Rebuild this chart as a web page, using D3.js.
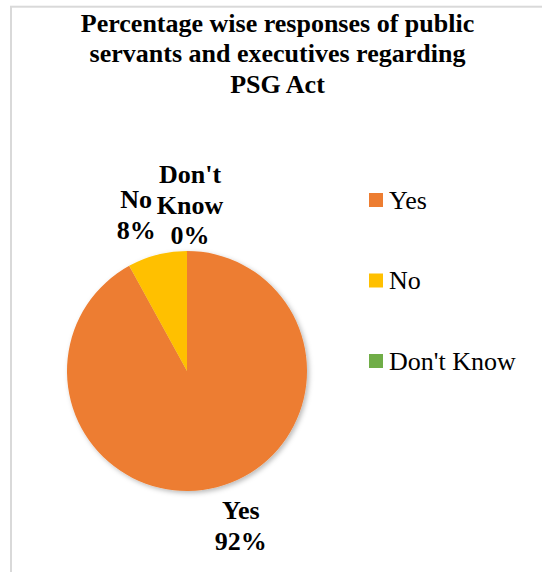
<!DOCTYPE html>
<html>
<head>
<meta charset="utf-8">
<script src="https://cdn.jsdelivr.net/npm/d3@7"></script>
<style>
  html, body { margin: 0; padding: 0; background: #fff; }
  svg { display: block; }
  text { font-family: "Liberation Serif", "Times New Roman", serif; fill: #000; }
</style>
</head>
<body>
<svg id="chart" width="542" height="572"></svg>
<script>
// Survey responses (percent)
const categories = ["Yes", "No", "Don't Know"];
const values = [92, 8, 0];
const colors = ["#ED7D31", "#FFC000", "#70AD47"];
const titleLines = [
  "Percentage wise responses of public",
  "servants and executives regarding",
  "PSG Act"
];

const svg = d3.select("#chart");
const W = 542, H = 572;

// chart frame
svg.append("rect")
  .attr("x", 11).attr("y", 6.7)
  .attr("width", 540).attr("height", 580)
  .attr("fill", "#fff")
  .attr("stroke", "#d9d9d9")
  .attr("stroke-width", 2);

// title
svg.append("text")
  .attr("text-anchor", "middle")
  .attr("font-size", 26)
  .attr("font-weight", "bold")
  .selectAll("tspan")
  .data(titleLines)
  .join("tspan")
  .attr("x", 277.5)
  .attr("y", (d, i) => 31.7 + i * 30.5)
  .text(d => d);

// soft shadow under the pie
const defs = svg.append("defs");
const f = defs.append("filter").attr("id", "pieShadow")
  .attr("x", "-20%").attr("y", "-20%").attr("width", "140%").attr("height", "140%");
f.append("feDropShadow")
  .attr("dx", 2).attr("dy", 2).attr("stdDeviation", 2.5)
  .attr("flood-color", "#000").attr("flood-opacity", 0.28);

const cx = 187, cy = 371, R = 120;
const color = d3.scaleOrdinal().domain(categories).range(colors);

const pie = d3.pie().sort(null).value(d => d.value);
const data = categories.map((c, i) => ({ category: c, value: values[i] }));
const arcs = pie(data);
const arc = d3.arc().innerRadius(0).outerRadius(R);

const g = svg.append("g").attr("transform", `translate(${cx},${cy})`);
g.append("g").attr("filter", "url(#pieShadow)")
  .selectAll("path")
  .data(arcs.filter(d => d.value > 0))
  .join("path")
  .attr("d", arc)
  .attr("fill", d => color(d.data.category));

// outside-end data labels: anchored on the slice's mid-angle, then nudged
const nudges = { "Yes": [15, 4], "No": [-12, -5], "Don't Know": [3, -10] };
const fs = 26, lh = 30.5;
arcs.forEach(d => {
  const a = (d.startAngle + d.endAngle) / 2;
  const rr = R * 1.3;
  const n = nudges[d.data.category] || [0, 0];
  const px = Math.sin(a) * rr + n[0];
  const py = -Math.cos(a) * rr + n[1];
  const words = d.data.category === "Don't Know" ? ["Don't", "Know"] : [d.data.category];
  const lines = words.concat([d3.format(".0%")(d.value / d3.sum(values))]);
  const t = g.append("text")
    .attr("text-anchor", "middle")
    .attr("font-size", fs)
    .attr("font-weight", "bold");
  const first = py - (lines.length - 1) * lh / 2 + fs * 0.33;
  lines.forEach((s, i) => {
    t.append("tspan").attr("x", px).attr("y", first + i * lh).text(s);
  });
});

// legend
const legend = svg.append("g");
const rows = legend.selectAll("g")
  .data(categories)
  .join("g")
  .attr("transform", (d, i) => `translate(369, ${200 + i * 80.5})`);
rows.append("rect")
  .attr("x", 0).attr("y", -7)
  .attr("width", 14).attr("height", 14)
  .attr("fill", d => color(d));
rows.append("text")
  .attr("x", 20).attr("y", 8.5)
  .attr("font-size", 26)
  .text(d => d);
</script>
</body>
</html>
